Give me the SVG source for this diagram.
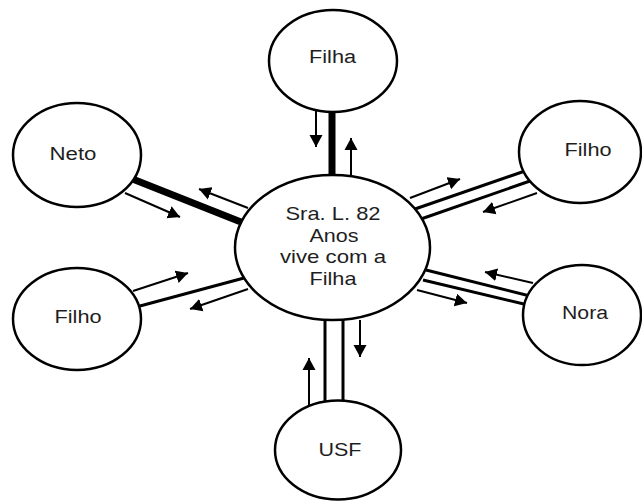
<svg xmlns="http://www.w3.org/2000/svg" width="642" height="501" viewBox="0 0 642 501">
<style>
.node{fill:#fff;stroke:#000;stroke-width:2.5}
.lbl{font-family:"Liberation Sans",Arial,sans-serif;font-size:18px;fill:#1e1e1e;text-anchor:middle}
.ctr{font-size:18.5px}
.ln{stroke:#000;stroke-width:3;fill:none}
.thick{stroke:#000;stroke-width:7;fill:none}
.arr{stroke:#000;stroke-width:2;fill:none;marker-end:url(#ah)}
</style>
<defs>
<marker id="ah" markerUnits="userSpaceOnUse" markerWidth="13" markerHeight="14" refX="12" refY="6.5" orient="auto" viewBox="0 0 13 13">
<path d="M0,0 L12,6.5 L0,13 z" fill="#000"/>
</marker>
</defs>
<rect width="642" height="501" fill="#fff"/>
<g id="connectors">
<line class="thick" x1="332" y1="108" x2="332" y2="180"/>
<line class="arr" x1="316" y1="110" x2="316" y2="147"/>
<line class="arr" x1="351" y1="176" x2="351" y2="138"/>
<line class="thick" x1="130" y1="178" x2="246" y2="224"/>
<line class="arr" x1="125" y1="193" x2="180" y2="217"/>
<line class="arr" x1="248" y1="208" x2="199" y2="189"/>
<line class="ln" x1="415" y1="209" x2="525" y2="171"/>
<line class="ln" x1="421" y1="219" x2="530" y2="181"/>
<line class="arr" x1="410" y1="198" x2="460" y2="179"/>
<line class="arr" x1="537" y1="193" x2="483" y2="212"/>
<line class="ln" x1="140" y1="306" x2="244" y2="278"/>
<line class="arr" x1="133" y1="291" x2="188" y2="273"/>
<line class="arr" x1="248" y1="289" x2="190" y2="309"/>
<line class="ln" x1="426" y1="270" x2="530" y2="296"/>
<line class="ln" x1="423" y1="280" x2="528" y2="305"/>
<line class="arr" x1="533" y1="283" x2="485" y2="272"/>
<line class="arr" x1="417" y1="290" x2="467" y2="303"/>
<line class="ln" x1="325" y1="318" x2="325" y2="403"/>
<line class="ln" x1="343" y1="318" x2="343" y2="403"/>
<line class="arr" x1="360" y1="320" x2="360" y2="357"/>
<line class="arr" x1="309" y1="406" x2="309" y2="358"/>
</g>
<g id="center">
<ellipse class="node" cx="332.5" cy="247.5" rx="97.5" ry="72.5"/>
<text class="lbl ctr" x="333" y="220" textLength="95" lengthAdjust="spacingAndGlyphs">Sra. L. 82</text>
<text class="lbl ctr" x="334" y="241.5" textLength="49" lengthAdjust="spacingAndGlyphs">Anos</text>
<text class="lbl ctr" x="333" y="263" textLength="106" lengthAdjust="spacingAndGlyphs">vive com a</text>
<text class="lbl ctr" x="333" y="285" textLength="47" lengthAdjust="spacingAndGlyphs">Filha</text>
</g>
<g id="filha">
<ellipse class="node" cx="333" cy="61" rx="64" ry="51"/>
<text class="lbl" x="332.5" y="63" textLength="47" lengthAdjust="spacingAndGlyphs">Filha</text>
</g>
<g id="neto">
<ellipse class="node" cx="77" cy="155" rx="64" ry="52"/>
<text class="lbl" x="73" y="159.5" textLength="47" lengthAdjust="spacingAndGlyphs">Neto</text>
</g>
<g id="filho-right">
<ellipse class="node" cx="580" cy="152" rx="61" ry="51"/>
<text class="lbl" x="588" y="156" textLength="47" lengthAdjust="spacingAndGlyphs">Filho</text>
</g>
<g id="filho-left">
<ellipse class="node" cx="77" cy="319" rx="64" ry="51"/>
<text class="lbl" x="78" y="323" textLength="47" lengthAdjust="spacingAndGlyphs">Filho</text>
</g>
<g id="nora">
<ellipse class="node" cx="582" cy="315" rx="59" ry="50"/>
<text class="lbl" x="585" y="319" textLength="46" lengthAdjust="spacingAndGlyphs">Nora</text>
</g>
<g id="usf">
<ellipse class="node" cx="338" cy="450" rx="63" ry="49.5"/>
<text class="lbl" x="340" y="455.5" textLength="43" lengthAdjust="spacingAndGlyphs">USF</text>
</g>
</svg>
